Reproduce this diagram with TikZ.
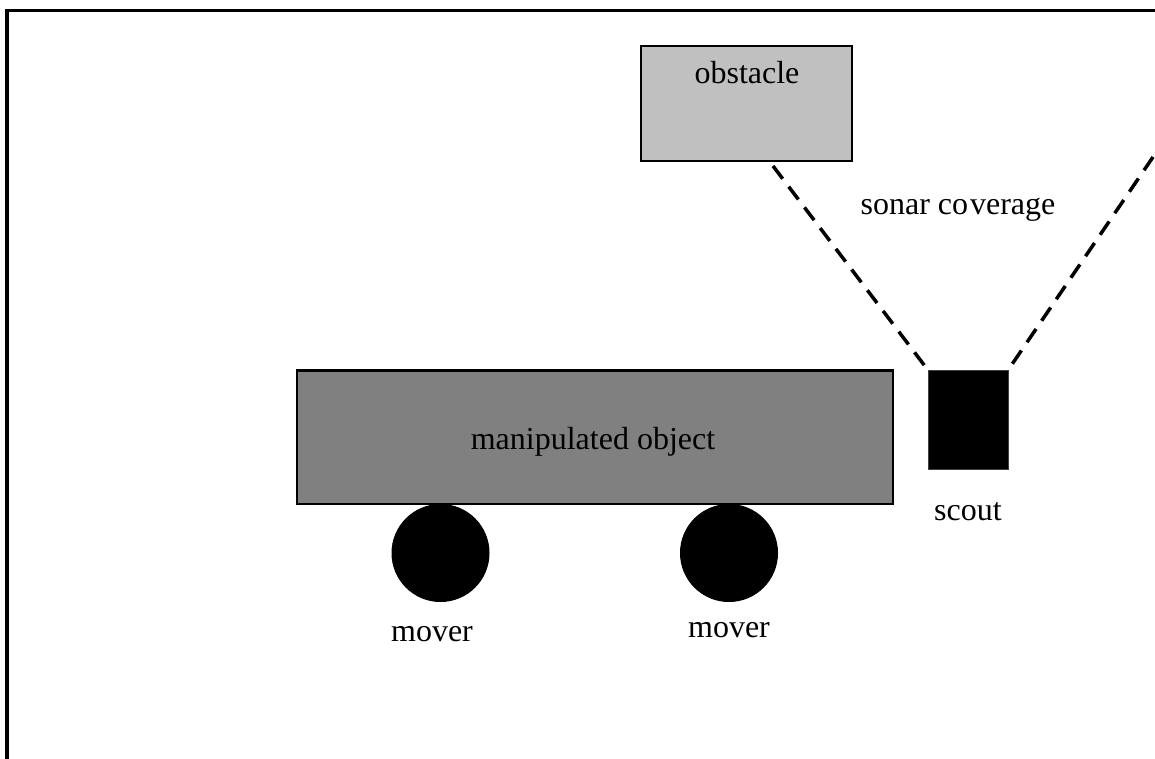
\documentclass[tikz,border=0pt]{standalone}
\usepackage{fontspec}
\setmainfont{Liberation Serif}
\definecolor{obstgray}{HTML}{C0C0C0}
\definecolor{objgray}{HTML}{808080}
\tikzset{
  box/.style={draw=black, line width=1.25pt, inner sep=0pt, rectangle},
  wheel/.style={circle, fill=black, draw=black, line width=0.5pt, inner sep=0pt, minimum size=48.5pt},
  lbl/.style={anchor=base, inner sep=0pt},
  sonar/.style={line width=1.75pt, dash pattern=on 8pt off 5pt}
}
\begin{document}
\begin{tikzpicture}[x=0.5pt,y=-0.5pt, font=\fontsize{16}{19}\selectfont]
\useasboundingbox (0,0) rectangle (1155,759);
% frame
\coordinate (fb) at (7,759);
\coordinate (ftl) at (7,10.5);
\coordinate (ftr) at (1155,10.5);
\draw[line width=1.75pt] (fb) -- (ftl) -- (ftr);
% obstacle
\node[box, fill=obstgray, minimum width=105.5pt, minimum height=57.5pt] (obstacle) at (746.5,103.5) {};
\node[lbl] (obstlabel) at (747,84) {obstacle};
% manipulated object
\node[box, fill=objgray, minimum width=298pt, minimum height=66.75pt] (object) at (595,437.25) {};
\node[lbl] (objlabel) at (593,449) {manipulated object};
% scout
\node[rectangle, fill=black, draw=black!75, line width=0.4pt, inner sep=0pt, minimum width=40pt, minimum height=49.5pt] (scout) at (968,419.5) {};
\node[lbl] (scoutlabel) at (968,520) {scout};
% movers
\node[wheel] (mover1) at (440.5,553) {};
\node[wheel] (mover2) at (729,553) {};
\node[lbl] (mover1label) at (432,641) {mover};
\node[lbl] (mover2label) at (729,637) {mover};
% sonar coverage
\coordinate (sonarL) at (773,166);
\coordinate (sonarR) at (1153,157);
\draw[sonar] (sonarL) -- (scout.north west);
\draw[sonar] (sonarR) -- (scout.north east);
\node[lbl] (sonarlabel) at (958,214) {sonar co\kern1pt verage};
\end{tikzpicture}
\end{document}
